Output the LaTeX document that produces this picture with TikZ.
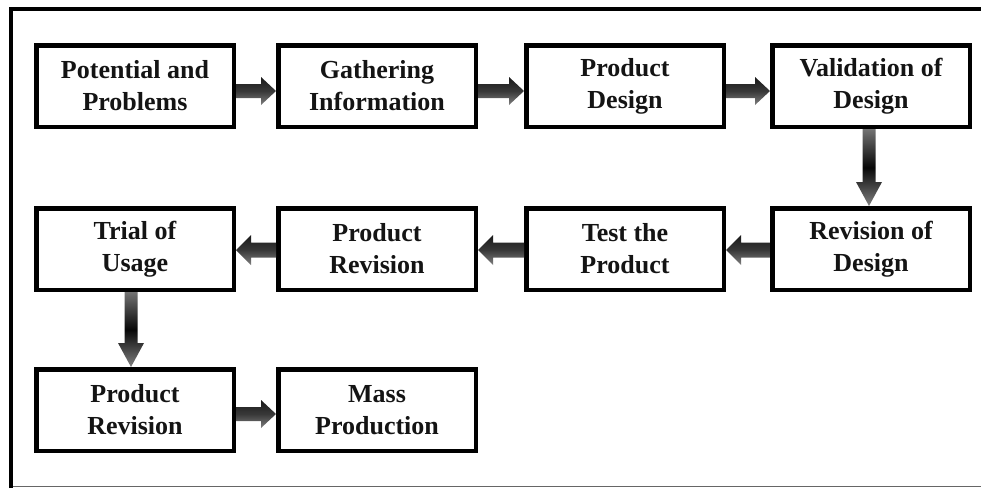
\documentclass[tikz,border=0pt]{standalone}
\usepackage{fontspec}
\setmainfont{Liberation Serif}
\usetikzlibrary{calc}

\tikzset{
  stage/.style={draw=black, line width=4.5pt, fill=white,
    minimum width=197.5pt, minimum height=81.5pt, inner sep=0pt,
    align=center, text=black!92,
    font=\fontsize{26}{32}\selectfont\bfseries},
  flowh/.style={top color=black!90, bottom color=black!50, middle color=black!78},
  flowv/.style={top color=black!55, bottom color=black!50, middle color=black!97},
}

% block arrows between two stages; #3 shifts the arrow off the centre line
\newcommand\flowright[3]{%
  \shade[flowh] let \p1=($(#1.east)+(0,#3)$), \p2=(#2.west) in
    (\x1,\y1+7pt) -- (\x2-15pt,\y1+7pt) -- (\x2-15pt,\y1+14pt) -- (\x2,\y1)
    -- (\x2-15pt,\y1-14pt) -- (\x2-15pt,\y1-7pt) -- (\x1,\y1-7pt) -- cycle;}
\newcommand\flowleft[3]{%
  \shade[flowh] let \p1=($(#1.west)+(0,#3)$), \p2=(#2.east) in
    (\x1,\y1+7.5pt) -- (\x2+15pt,\y1+7.5pt) -- (\x2+15pt,\y1+15pt) -- (\x2,\y1)
    -- (\x2+15pt,\y1-15pt) -- (\x2+15pt,\y1-7.5pt) -- (\x1,\y1-7.5pt) -- cycle;}
\newcommand\flowdown[3]{%
  \shade[flowv] let \p1=($(#1.south)+(#3,0)$), \p2=(#2.north) in
    (\x1-6.5pt,\y1) -- (\x1-6.5pt,\y2+24pt) -- (\x1-13pt,\y2+24pt) -- (\x1,\y2)
    -- (\x1+13pt,\y2+24pt) -- (\x1+6.5pt,\y2+24pt) -- (\x1+6.5pt,\y1) -- cycle;}

\begin{document}
\begin{tikzpicture}[x=1pt, y=-1pt]
  \useasboundingbox (0,0) rectangle (981,488);

  % frame
  \draw[black!60, line width=1.2pt] (11,486.5) -- (981,486.5);
  \draw[line width=4.5pt] (11,488) -- (11,9) -- (981,9);

  % stages
  \node[stage] (pp)  at (135,86)  {Potential and\\Problems};
  \node[stage] (gi)  at (377,86)  {Gathering\\Information};
  \node[stage] (pd)  at (625,86)  {Product\\Design};
  \node[stage] (vd)  at (871,86)  {Validation of\\Design};
  \node[stage] (rd)  at (871,249) {Revision of\\Design};
  \node[stage] (tp)  at (625,249) {Test the\\Product};
  \node[stage] (pr)  at (377,249) {Product\\Revision};
  \node[stage] (tu)  at (135,249) {Trial of\\Usage};
  \node[stage] (pr2) at (135,410) {Product\\Revision};
  \node[stage] (mp)  at (377,410) {Mass\\Production};

  % connectors
  \flowright{pp}{gi}{5}
  \flowright{gi}{pd}{5}
  \flowright{pd}{vd}{5}
  \flowdown{vd}{rd}{-2}
  \flowleft{rd}{tp}{1}
  \flowleft{tp}{pr}{1}
  \flowleft{pr}{tu}{1}
  \flowdown{tu}{pr2}{-4}
  \flowright{pr2}{mp}{4}
\end{tikzpicture}
\end{document}
